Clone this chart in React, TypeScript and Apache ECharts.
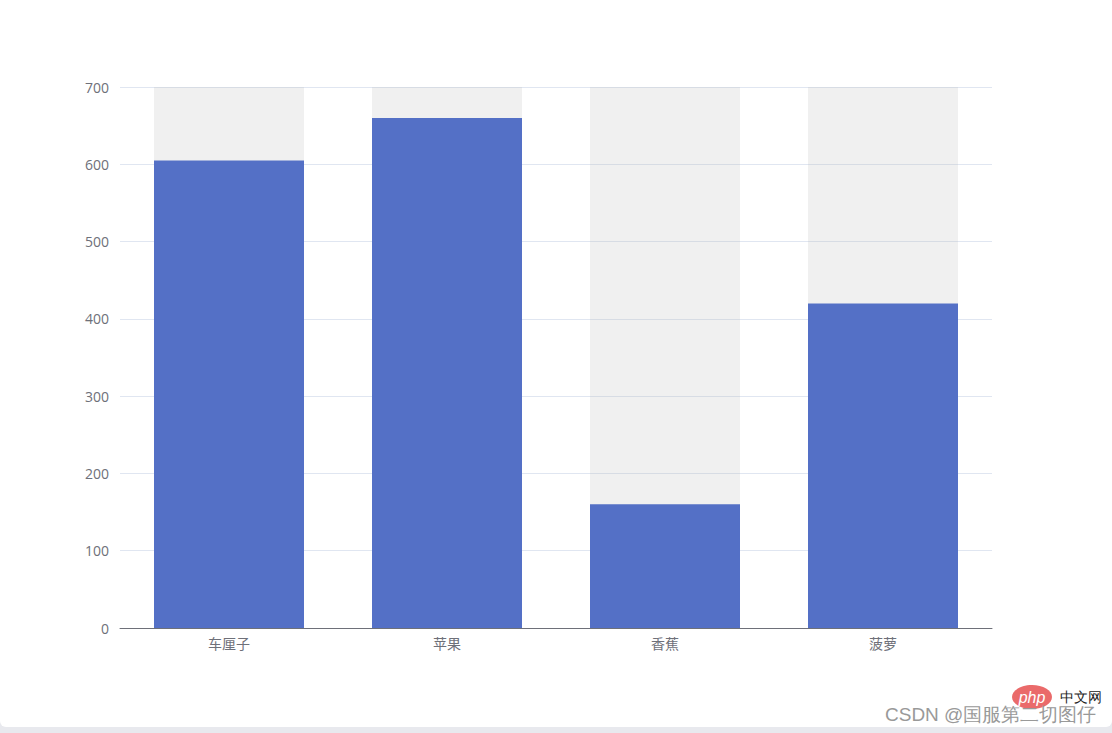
import { useEffect, useRef } from 'react';
import * as echarts from 'echarts';

const categories = ['车厘子', '苹果', '香蕉', '菠萝'];
const values = [605, 660, 160, 420];
const yTicks = [0, 100, 200, 300, 400, 500, 600, 700];

export default function App() {
  const chartRef = useRef<HTMLDivElement>(null);

  useEffect(() => {
    document.body.style.margin = '0';
    document.body.style.background = '#e8e9ee';
    if (!chartRef.current) return;
    const chart = echarts.init(chartRef.current, undefined, { renderer: 'svg' });

    const option: echarts.EChartsOption = {
      animation: false,
      textStyle: { fontFamily: '"Microsoft YaHei", "Noto Sans CJK SC", sans-serif' },
      grid: { left: 120, right: 120, top: 87, bottom: 99 },
      xAxis: {
        type: 'category',
        data: categories,
        axisLine: { lineStyle: { color: '#6E7079' } },
        axisTick: { lineStyle: { color: '#6E7079' } },
        axisLabel: { color: '#6E7079', fontSize: 14, margin: 8 },
      },
      yAxis: {
        type: 'value',
        min: yTicks[0],
        max: yTicks[yTicks.length - 1],
        interval: 100,
        axisLabel: {
          color: '#6E7079',
          fontSize: 14,
          margin: 11,
          fontFamily: '"Open Sans", "Noto Sans", sans-serif',
        },
        splitLine: { lineStyle: { color: '#E0E6F1' } },
      },
      series: [
        {
          type: 'bar',
          data: values,
          barWidth: 150,
          itemStyle: { color: '#5470C6' },
          showBackground: true,
          backgroundStyle: { color: 'rgba(180, 180, 180, 0.2)' },
        },
      ],
      graphic: [
        {
          type: 'ellipse',
          shape: { cx: 1032, cy: 697, rx: 20, ry: 12 },
          style: { fill: '#ea6a6a' },
        },
        {
          type: 'text',
          x: 1032,
          y: 697,
          style: {
            text: 'php',
            fill: '#fff',
            fontSize: 16,
            fontStyle: 'italic',
            fontFamily: 'Arial, sans-serif',
            align: 'center',
            verticalAlign: 'middle',
          },
        },
        {
          type: 'text',
          x: 1060,
          y: 697,
          style: {
            text: '中文网',
            fill: '#222',
            fontSize: 14,
            verticalAlign: 'middle',
          },
        },
        {
          type: 'text',
          x: 885,
          y: 714,
          style: {
            text: 'CSDN @国服第二切图仔',
            fill: '#999',
            fontSize: 19,
            verticalAlign: 'middle',
          },
        },
      ],
    };

    chart.setOption(option);
    return () => {
      chart.dispose();
    };
  }, []);

  return (
    <div style={{ width: 1112, height: 733, background: '#e8e9ee' }}>
      <div
        style={{
          width: 1112,
          height: 727,
          background: '#fff',
          borderRadius: '0 0 6px 6px',
          overflow: 'hidden',
        }}
      >
        <div ref={chartRef} style={{ width: 1112, height: 727 }} />
      </div>
    </div>
  );
}
